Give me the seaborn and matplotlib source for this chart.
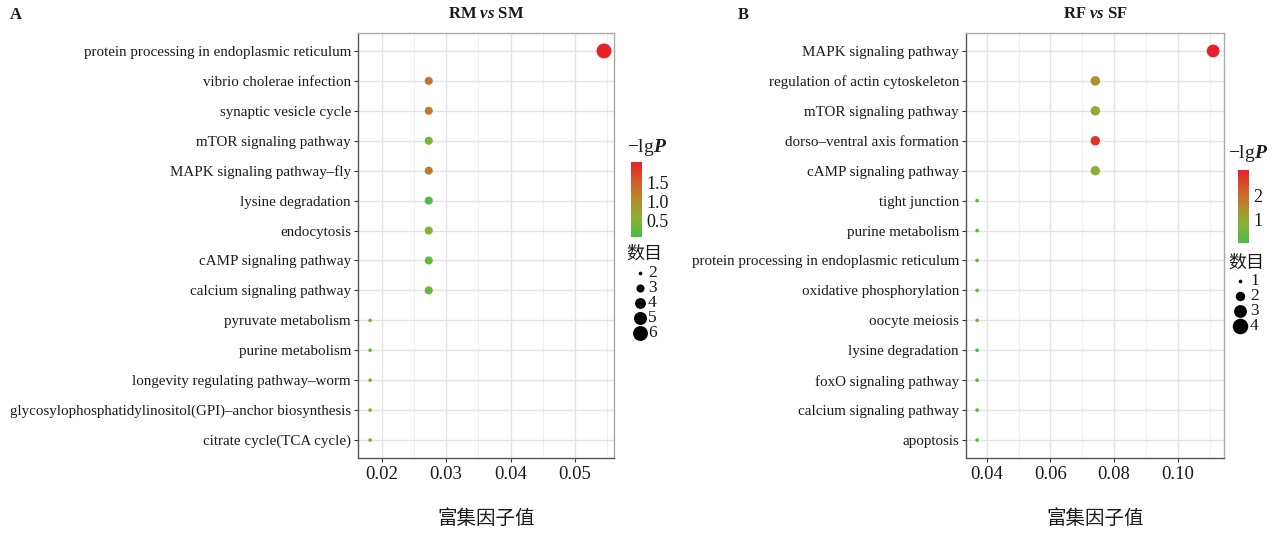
import numpy as np
import pandas as pd
import matplotlib
matplotlib.use("Agg")
import matplotlib.pyplot as plt
import seaborn as sns
from matplotlib.colors import LinearSegmentedColormap, Normalize
from matplotlib.colorbar import ColorbarBase
from matplotlib.ticker import MultipleLocator

# ---------------- data ----------------
a_terms = [
    "protein processing in endoplasmic reticulum",
    "vibrio cholerae infection",
    "synaptic vesicle cycle",
    "mTOR signaling pathway",
    "MAPK signaling pathway–fly",
    "lysine degradation",
    "endocytosis",
    "cAMP signaling pathway",
    "calcium signaling pathway",
    "pyruvate metabolism",
    "purine metabolism",
    "longevity regulating pathway–worm",
    "glycosylophosphatidylinositol(GPI)–anchor biosynthesis",
    "citrate cycle(TCA cycle)",
]
a_rich = [0.0545, 0.0273, 0.0273, 0.0273, 0.0273, 0.0273, 0.0273,
          0.0273, 0.0273, 0.0182, 0.0182, 0.0182, 0.0182, 0.0182]
a_count = [6, 3, 3, 3, 3, 3, 3, 3, 3, 2, 2, 2, 2, 2]
a_lgp = [2.04, 1.25, 1.2, 0.4, 1.2, 0.05, 0.6, 0.25, 0.3, 0.7, 0.35, 0.6, 0.55, 0.75]
a_cbar_ticks = [0.5, 1.0, 1.5]
a_size_breaks = [2, 3, 4, 5, 6]

b_terms = [
    "MAPK signaling pathway",
    "regulation of actin cytoskeleton",
    "mTOR signaling pathway",
    "dorso–ventral axis formation",
    "cAMP signaling pathway",
    "tight junction",
    "purine metabolism",
    "protein processing in endoplasmic reticulum",
    "oxidative phosphorylation",
    "oocyte meiosis",
    "lysine degradation",
    "foxO signaling pathway",
    "calcium signaling pathway",
    "apoptosis",
]
b_rich = [0.1111, 0.0741, 0.0741, 0.0741, 0.0741, 0.0370, 0.0370,
          0.0370, 0.0370, 0.0370, 0.0370, 0.0370, 0.0370, 0.0370]
b_count = [3, 2, 2, 2, 2, 1, 1, 1, 1, 1, 1, 1, 1, 1]
b_lgp = [3.04, 1.45, 0.9, 2.8, 0.8, 0.4, 0.35, 0.3, 0.4, 0.45, 0.02, 0.35, 0.4, 0.3]
b_cbar_ticks = [1, 2]
b_size_breaks = [1, 2, 3, 4]

# ---------------- style ----------------
sns.set_theme(style="whitegrid")
plt.rcParams["font.family"] = ["Liberation Serif", "Noto Sans CJK SC", "DejaVu Sans"]
plt.rcParams["mathtext.fontset"] = "custom"
plt.rcParams["mathtext.it"] = "Liberation Serif:italic:bold"
plt.rcParams["mathtext.rm"] = "Liberation Serif"
plt.rcParams["axes.unicode_minus"] = True

W, H = 1280, 533
fig = plt.figure(figsize=(W / 100, H / 100), dpi=100)
fig.patch.set_facecolor("white")

cmap = LinearSegmentedColormap.from_list(
    "gr", ["#4CBB47", "#86B13A", "#B58A2E", "#D4592C", "#E8202A"])


def fx(x):
    return x / W


def fy(y):
    return 1 - y / H


def panel(left, right, terms, rich, count, lgp, xlim, major, minor,
          title, letter, letter_x, sizes, size_norm,
          cbar_box, cbar_ticks, cbar_title_xy, size_title_xy,
          size_breaks, size_ys, size_dot_x, size_lab_x):
    ax = fig.add_axes([fx(left), fy(458), fx(right) - fx(left), fy(33) - fy(458)])
    df = pd.DataFrame({"term": terms, "rich": rich, "count": count, "lgp": lgp})
    hn = (min(lgp), max(lgp))
    sns.scatterplot(data=df, x="rich", y="term", hue="lgp", size="count",
                    palette=cmap, hue_norm=hn, sizes=sizes, size_norm=size_norm,
                    linewidth=0, legend=False, ax=ax, zorder=3)
    n = len(terms)
    ax.set_ylim(n - 1 + 0.6, -0.6)
    ax.set_xlim(*xlim)
    ax.xaxis.set_major_locator(MultipleLocator(major))
    ax.xaxis.set_minor_locator(MultipleLocator(minor))
    ax.set_xticklabels([f"{t:.2f}" for t in ax.get_xticks()])
    ax.set_xlim(*xlim)
    ax.set_facecolor("white")
    ax.grid(True, which="major", color="#E4E4E4", linewidth=1.0)
    ax.grid(True, which="minor", axis="x", color="#F0F0F0", linewidth=0.7)
    ax.set_axisbelow(True)
    for s in ["left", "bottom"]:
        ax.spines[s].set_color("#555555")
        ax.spines[s].set_linewidth(1.0)
    for s in ["top", "right"]:
        ax.spines[s].set_color("#AAAAAA")
        ax.spines[s].set_linewidth(1.0)
    ax.tick_params(axis="y", which="major", left=True, length=3, width=0.8,
                   color="#333333", labelsize=10.8, labelcolor="#1a1a1a", pad=2)
    ax.tick_params(axis="x", which="major", bottom=True, length=3, width=0.8,
                   color="#333333", labelsize=13.5, labelcolor="#1a1a1a", pad=3)
    ax.tick_params(axis="x", which="minor", bottom=False)
    ax.set_xlabel("富集因子值", fontsize=14, family=["Noto Sans CJK SC"],
                  labelpad=18, color="#1a1a1a")
    ax.set_ylabel("")
    ax.set_title(title, fontsize=12, fontweight="bold", pad=10.5, color="#1a1a1a")
    fig.text(fx(letter_x), fy(15), letter, fontsize=12, fontweight="bold",
             ha="left", va="center", color="#1a1a1a")

    # colorbar
    x0, x1, y0, y1 = cbar_box
    cax = fig.add_axes([fx(x0), fy(y1), fx(x1) - fx(x0), fy(y0) - fy(y1)])
    cb = ColorbarBase(cax, cmap=cmap, norm=Normalize(*hn), ticks=cbar_ticks)
    cb.outline.set_visible(False)
    cax.tick_params(length=0, labelsize=13, pad=3, labelcolor="#1a1a1a")
    cb.set_ticklabels([f"{t:g}" if isinstance(t, int) else f"{t:.1f}" for t in cbar_ticks])
    fig.text(fx(cbar_title_xy[0]), fy(cbar_title_xy[1]), r"−lg$P$", fontsize=14,
             ha="left", va="center", color="#1a1a1a")

    # size legend
    fig.text(fx(size_title_xy[0]), fy(size_title_xy[1]), "数目", fontsize=13,
             family=["Noto Sans CJK SC"], ha="left", va="center", color="#1a1a1a")
    lax = fig.add_axes([0, 0, 1, 1], facecolor="none")
    lax.set_xlim(0, W)
    lax.set_ylim(H, 0)
    lax.axis("off")
    smin, smax = sizes
    cmin, cmax = size_norm
    for b, yy in zip(size_breaks, size_ys):
        s = smin + (b - cmin) / (cmax - cmin) * (smax - smin)
        lax.scatter([size_dot_x], [yy], s=s, color="black", linewidth=0)
        lax.text(size_lab_x, yy, str(b), fontsize=12.5, ha="left", va="center",
                 color="#1a1a1a")
    return ax


panel(358, 614, a_terms, a_rich, a_count, a_lgp, (0.01632, 0.05605), 0.01, 0.005,
      r"RM $vs$ SM", "A", 10, (7, 115), (2, 6),
      (631, 642, 162, 237), a_cbar_ticks, (627, 147), (626, 254),
      a_size_breaks, [273, 288, 303, 318, 333], 640, 648)

panel(966, 1224, b_terms, b_rich, b_count, b_lgp, (0.0335, 0.1145), 0.02, 0.01,
      r"RF $vs$ SF", "B", 738, (7, 125), (1, 4),
      (1238, 1249, 170, 243), b_cbar_ticks, (1228, 154), (1228, 263),
      b_size_breaks, [281, 296, 311, 326], 1240, 1250)

fig.savefig("out.png", dpi=100, facecolor="white")
